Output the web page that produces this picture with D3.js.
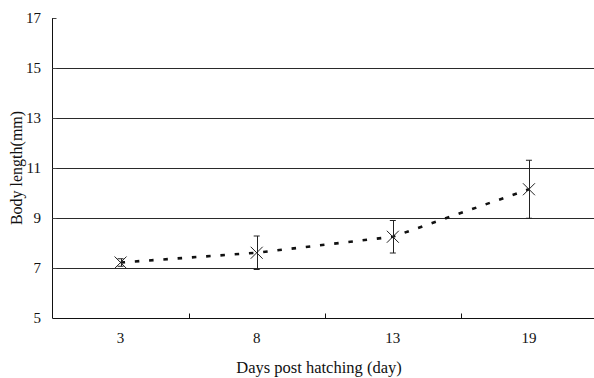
<!DOCTYPE html>
<html><head><meta charset="utf-8">
<script src="https://cdn.jsdelivr.net/npm/d3@7"></script>
<style>body{margin:0;background:#fff}svg{display:block}text{font-family:"Liberation Serif","DejaVu Serif",serif;fill:#111}</style>
</head><body>
<svg id="c" width="594" height="378"></svg>
<script>
const days = ["3", "8", "13", "19"];
const meanLength = [7.22, 7.61, 8.25, 10.15];
const errLength = [0.15, 0.67, 0.65, 1.16];
const yTicks = [5, 7, 9, 11, 13, 15, 17];
const gridValues = [7, 9, 11, 13, 15];

const svg = d3.select("#c");
const mLeft = 52.5, mRight = 597, mTop = 18, mBottom = 318;
const x = d3.scaleBand().domain(days).range([mLeft, mRight]);
const y = d3.scaleLinear().domain([5, 17]).range([mBottom, mTop]);

// gridlines
svg.append("g").selectAll("line").data(gridValues).join("line")
  .attr("x1", mLeft).attr("x2", 594)
  .attr("y1", d => Math.round(y(d)) + 0.5).attr("y2", d => Math.round(y(d)) + 0.5)
  .attr("stroke", "#2a2a2a").attr("stroke-width", 1);

// y axis
const yAxis = d3.axisRight(y).tickValues(yTicks).tickSize(4).tickFormat("");
const ga = svg.append("g").attr("transform", `translate(${mLeft},0)`).call(yAxis);
ga.select(".domain").attr("stroke", "#111").attr("d", `M0,${mTop}V${mBottom}`);
ga.selectAll(".tick line").attr("stroke", "#444");

// y tick labels
svg.append("g").selectAll("text").data(yTicks).join("text")
  .attr("x", 41).attr("y", d => y(d) + 5)
  .attr("text-anchor", "end").attr("font-size", 15).text(d => d);

// x axis
const bx = svg.append("g").attr("transform", `translate(0,${mBottom + 0.5})`);
bx.append("line").attr("x1", mLeft).attr("x2", 594).attr("stroke", "#111");
const boundaries = days.slice(1).map(d => x(d));
bx.selectAll(".tk").data(boundaries).join("line").attr("class", "tk")
  .attr("x1", d => Math.round(d) + 0.5).attr("x2", d => Math.round(d) + 0.5)
  .attr("y1", 0).attr("y2", -5).attr("stroke", "#111");
svg.append("g").selectAll("text").data(days).join("text")
  .attr("x", d => x(d) + x.bandwidth() / 2).attr("y", 343)
  .attr("text-anchor", "middle").attr("font-size", 15).text(d => d);

// axis titles
svg.append("text").attr("x", 319).attr("y", 373).attr("text-anchor", "middle")
  .attr("font-size", 16.5).text("Days post hatching (day)");
svg.append("text").attr("transform", "translate(22,168) rotate(-90)")
  .attr("text-anchor", "middle").attr("font-size", 16).text("Body length(mm)");

const pts = days.map((d, i) => ({cx: x(d) + x.bandwidth() / 2, v: meanLength[i], e: errLength[i]}));

// dashed line
svg.append("path").datum(pts)
  .attr("d", d3.line().x(p => p.cx).y(p => y(p.v)))
  .attr("fill", "none").attr("stroke", "#111").attr("stroke-width", 2.6)
  .attr("stroke-dasharray", "4.5,9.8");

// error bars
const eb = svg.append("g").attr("stroke", "#222").attr("stroke-width", 1);
eb.selectAll(".v").data(pts).join("line").attr("class", "v")
  .attr("x1", p => Math.round(p.cx) + 0.5).attr("x2", p => Math.round(p.cx) + 0.5)
  .attr("y1", p => y(p.v + p.e)).attr("y2", p => y(p.v - p.e));
eb.selectAll(".t").data(pts).join("line").attr("class", "t")
  .attr("x1", p => p.cx - 3).attr("x2", p => p.cx + 3)
  .attr("y1", p => y(p.v + p.e)).attr("y2", p => y(p.v + p.e));
eb.selectAll(".b").data(pts).join("line").attr("class", "b")
  .attr("x1", p => p.cx - 3).attr("x2", p => p.cx + 3)
  .attr("y1", p => y(p.v - p.e)).attr("y2", p => y(p.v - p.e));

// x markers
const mk = svg.append("g").attr("stroke", "#222").attr("stroke-width", 1).attr("fill", "none");
mk.selectAll("path").data(pts).join("path")
  .attr("d", p => { const cx = p.cx, cy = y(p.v), s = 6;
    return `M${cx - s},${cy - s}L${cx + s},${cy + s}M${cx - s},${cy + s}L${cx + s},${cy - s}`; });
</script>
</body></html>
